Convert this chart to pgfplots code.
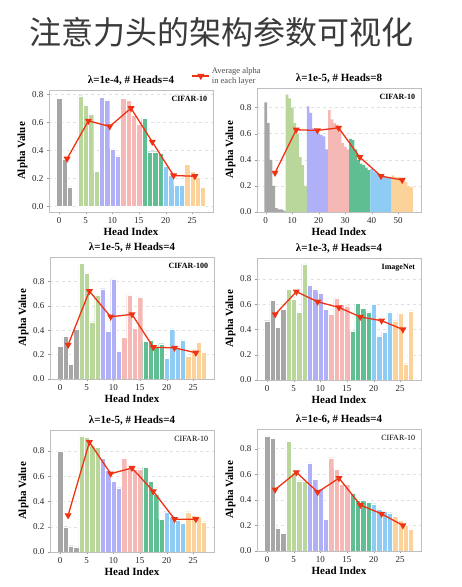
\documentclass[border=0pt]{standalone}
\usepackage{pgfplots}
\pgfplotsset{compat=1.18}
\usepackage{fontspec}
\setmainfont{Liberation Serif}
\newfontfamily\cjk{Noto Sans CJK SC}
\definecolor{cg}{HTML}{A6A6A6}
\definecolor{cgr}{HTML}{B9D79B}
\definecolor{cb}{HTML}{B0B0F8}
\definecolor{cp}{HTML}{F6B8B5}
\definecolor{ct}{HTML}{5FBF93}
\definecolor{clb}{HTML}{8ECBF5}
\definecolor{co}{HTML}{FBD29A}
\definecolor{cred}{HTML}{F03214}
\definecolor{titlec}{HTML}{3A3A3A}
\pgfplotsset{
  panel/.style={
    scale only axis, width=164pt, height=122pt,
    xmin=-1.9, xmax=28.9, xtick={0,5,10,15,20,25},
    ytick={0,0.2,0.4,0.6,0.8},
    yticklabel style={/pgf/number format/.cd, fixed, fixed zerofill, precision=1},
    /pgf/number format/assume math mode=true,
    ticklabel style={font=\fontsize{9}{10}\selectfont, text=black!85},
    axis line style={draw=black!25},
    tick style={draw=black!40},
    tick align=outside, major tick length=2pt,
    xtick pos=bottom, ytick pos=left,
    ymajorgrids, grid style={dashed, black!12, line width=0.4pt},
    title style={font=\bfseries\fontsize{11}{12}\selectfont, yshift=-5pt},
    xlabel={Head Index}, ylabel={Alpha Value},
    label style={font=\bfseries\fontsize{11}{12}\selectfont},
    xlabel style={yshift=3pt}, ylabel style={yshift=-2pt},
  },
  hb/.style={ybar, bar width=1, bar shift=0pt, fill=#1, draw=white, line width=0.12pt, forget plot},
  hbn/.style={ybar, bar width=1, bar shift=0pt, fill=#1, draw=none, forget plot},
  avg/.style={color=cred, line width=1.3pt, mark=triangle*, mark size=2.8pt, mark options={rotate=180, solid, fill=cred}},
}
\newcommand{\ds}[1]{\node[anchor=north east, font=\bfseries\fontsize{8}{9}\selectfont] at (rel axis cs:0.985,0.975) {#1};}
\newcommand{\dsr}[1]{\node[anchor=north east, font=\fontsize{8}{9}\selectfont] at (rel axis cs:0.985,0.975) {#1};}
\begin{document}
\begin{tikzpicture}
\useasboundingbox (0pt,0pt) rectangle (462pt,587pt);
\node[font=\cjk\fontsize{32}{36}\selectfont, text=titlec] at (222pt,555pt) {注意力头的架构参数可视化};

% Panel 1
\begin{axis}[panel, at={(49pt,375pt)}, anchor=south west, ymin=-0.04, ymax=0.83,
  title={λ=1e-4, \# Heads=4},
  legend style={at={(0.85,1.115)}, anchor=west, draw=none, fill=none,
    font=\fontsize{8.5}{10}\selectfont, text=black!70, nodes={align=left}}]
\addplot[hb=cg] coordinates {(0,0.77)(1,0.34)(2,0.14)};
\addplot[hb=cgr] coordinates {(4,0.79)(5,0.72)(6,0.66)(7,0.25)};
\addplot[hb=cb] coordinates {(8,0.78)(9,0.76)(10,0.41)(11,0.36)};
\addplot[hb=cp] coordinates {(12,0.77)(13,0.76)(14,0.65)(15,0.59)};
\addplot[hb=ct] coordinates {(16,0.63)(17,0.39)(18,0.39)(19,0.38)};
\addplot[hb=clb] coordinates {(20,0.29)(21,0.22)(22,0.15)(23,0.15)};
\addplot[hb=co] coordinates {(24,0.30)(25,0.25)(26,0.21)(27,0.14)};
\addplot[avg] coordinates {(1.5,0.34)(5.5,0.61)(9.5,0.57)(13.5,0.70)(17.5,0.46)(21.5,0.22)(25.5,0.215)};
\addlegendentry{Average alpha\\in each layer}
\ds{CIFAR-10}
\end{axis}

% Panel 2
\begin{axis}[panel, at={(257pt,375pt)}, anchor=south west, ymin=0, ymax=0.95,
  xmin=-3.3, xmax=58.6, xtick={0,10,20,30,40,50}, height=124pt,
  title={λ=1e-5, \# Heads=8}]
\addplot[hbn=cg] coordinates {(0,0.84)(1,0.68)(2,0.40)(3,0.20)(4,0.03)(5,0.02)(6,0.02)(7,0.01)};
\addplot[hbn=cgr] coordinates {(8,0.90)(9,0.87)(10,0.80)(11,0.68)(12,0.60)(13,0.42)(14,0.36)(15,0.20)};
\addplot[hbn=cb] coordinates {(16,0.81)(17,0.76)(18,0.64)(19,0.62)(20,0.60)(21,0.59)(22,0.58)(23,0.48)};
\addplot[hbn=cp] coordinates {(24,0.78)(25,0.71)(26,0.68)(27,0.67)(28,0.64)(29,0.53)(30,0.50)(31,0.48)};
\addplot[hbn=ct] coordinates {(32,0.56)(33,0.55)(34,0.48)(35,0.40)(36,0.37)(37,0.36)(38,0.34)(39,0.32)};
\addplot[hbn=clb] coordinates {(40,0.33)(41,0.31)(42,0.30)(43,0.29)(44,0.28)(45,0.27)(46,0.27)(47,0.26)};
\addplot[hbn=co] coordinates {(48,0.28)(49,0.27)(50,0.27)(51,0.26)(52,0.25)(53,0.23)(54,0.20)(55,0.19)};
\addplot[avg] coordinates {(3.5,0.30)(11.5,0.63)(19.5,0.625)(27.5,0.645)(35.5,0.42)(43.5,0.275)(51.5,0.245)};
\ds{CIFAR-10}
\end{axis}

% Panel 3
\begin{axis}[panel, at={(50pt,208pt)}, anchor=south west, ymin=0, ymax=1.0,
  title={λ=1e-5, \# Heads=4}]
\addplot[hb=cg] coordinates {(0,0.27)(1,0.35)(2,0.12)(3,0.41)};
\addplot[hb=cgr] coordinates {(4,0.95)(5,0.87)(6,0.47)(7,0.69)};
\addplot[hb=cb] coordinates {(8,0.74)(9,0.39)(10,0.82)(11,0.23)};
\addplot[hb=cp] coordinates {(12,0.34)(13,0.69)(14,0.42)(15,0.67)};
\addplot[hb=ct] coordinates {(16,0.31)(17,0.32)(18,0.26)(19,0.29)};
\addplot[hb=clb] coordinates {(20,0.17)(21,0.41)(22,0.25)(23,0.32)};
\addplot[hb=co] coordinates {(24,0.19)(25,0.24)(26,0.30)(27,0.22)};
\addplot[avg] coordinates {(1.5,0.28)(5.5,0.72)(9.5,0.51)(13.5,0.53)(17.5,0.26)(21.5,0.255)(25.5,0.215)};
\ds{CIFAR-100}
\end{axis}

% Panel 4
\begin{axis}[panel, at={(257pt,207pt)}, anchor=south west, ymin=0, ymax=0.967,
  title={λ=1e-3, \# Heads=4}]
\addplot[hb=cg] coordinates {(0,0.47)(1,0.63)(2,0.42)(3,0.56)};
\addplot[hb=cgr] coordinates {(4,0.72)(5,0.64)(6,0.54)(7,0.92)};
\addplot[hb=cb] coordinates {(8,0.75)(9,0.72)(10,0.69)(11,0.56)};
\addplot[hb=cp] coordinates {(12,0.52)(13,0.65)(14,0.60)(15,0.59)};
\addplot[hb=ct] coordinates {(16,0.39)(17,0.61)(18,0.57)(19,0.54)};
\addplot[hb=clb] coordinates {(20,0.60)(21,0.35)(22,0.38)(23,0.54)};
\addplot[hb=co] coordinates {(24,0.47)(25,0.53)(26,0.13)(27,0.55)};
\addplot[avg] coordinates {(1.5,0.52)(5.5,0.70)(9.5,0.62)(13.5,0.575)(17.5,0.50)(21.5,0.47)(25.5,0.40)};
\ds{ImageNet}
\end{axis}

% Panel 5
\begin{axis}[panel, at={(50pt,35pt)}, anchor=south west, ymin=0, ymax=0.966,
  title={λ=1e-5, \# Heads=4}]
\addplot[hb=cg] coordinates {(0,0.80)(1,0.20)(2,0.05)(3,0.04)};
\addplot[hb=cgr] coordinates {(4,0.92)(5,0.91)(6,0.85)(7,0.83)};
\addplot[hb=cb] coordinates {(8,0.74)(9,0.65)(10,0.56)(11,0.51)};
\addplot[hb=cp] coordinates {(12,0.74)(13,0.67)(14,0.66)(15,0.66)};
\addplot[hb=ct] coordinates {(16,0.67)(17,0.56)(18,0.46)(19,0.26)};
\addplot[hb=clb] coordinates {(20,0.32)(21,0.28)(22,0.25)(23,0.23)};
\addplot[hb=co] coordinates {(24,0.32)(25,0.29)(26,0.28)(27,0.24)};
\addplot[avg] coordinates {(1.5,0.29)(5.5,0.87)(9.5,0.62)(13.5,0.665)(17.5,0.48)(21.5,0.26)(25.5,0.26)};
\dsr{CIFAR-10}
\end{axis}

% Panel 6
\begin{axis}[panel, at={(257pt,36pt)}, anchor=south west, ymin=0, ymax=0.954,
  title={λ=1e-6, \# Heads=4}]
\addplot[hb=cg] coordinates {(0,0.90)(1,0.88)(2,0.18)(3,0.14)};
\addplot[hb=cgr] coordinates {(4,0.86)(5,0.62)(6,0.55)(7,0.55)};
\addplot[hb=cb] coordinates {(8,0.69)(9,0.56)(10,0.49)(11,0.25)};
\addplot[hb=cp] coordinates {(12,0.73)(13,0.64)(14,0.52)(15,0.52)};
\addplot[hb=ct] coordinates {(16,0.45)(17,0.40)(18,0.40)(19,0.38)};
\addplot[hb=clb] coordinates {(20,0.37)(21,0.33)(22,0.31)(23,0.30)};
\addplot[hb=co] coordinates {(24,0.27)(25,0.24)(26,0.20)(27,0.17)};
\addplot[avg] coordinates {(1.5,0.48)(5.5,0.615)(9.5,0.46)(13.5,0.57)(17.5,0.36)(21.5,0.29)(25.5,0.20)};
\dsr{CIFAR-10}
\end{axis}
\end{tikzpicture}
\end{document}
